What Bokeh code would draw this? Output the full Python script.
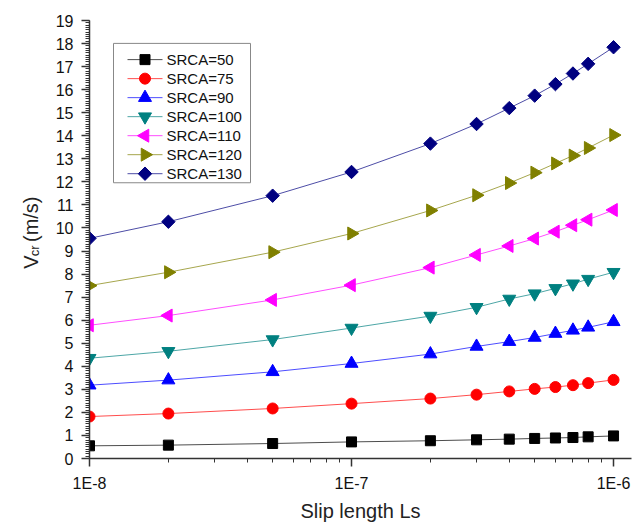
import math
from bokeh.plotting import figure
from bokeh.layouts import row
from bokeh.models import FixedTicker, SingleIntervalTicker, Range1d, LinearScale
from bokeh.core.properties import value
from bokeh.embed import file_html
from bokeh.resources import INLINE

# ---- data ----
slip_length = [1e-8, 2e-8, 5e-8, 1e-7, 2e-7, 3e-7, 4e-7, 5e-7, 6e-7, 7e-7, 8e-7, 1e-6]
srca_50 = [0.55, 0.58, 0.65, 0.72, 0.77, 0.81, 0.84, 0.87, 0.89, 0.91, 0.94, 0.98]
srca_75 = [1.82, 1.95, 2.17, 2.38, 2.60, 2.77, 2.91, 3.02, 3.10, 3.18, 3.27, 3.41]
srca_90 = [3.18, 3.40, 3.76, 4.12, 4.53, 4.86, 5.07, 5.25, 5.42, 5.56, 5.69, 5.93]
srca_100 = [4.35, 4.65, 5.16, 5.66, 6.18, 6.56, 6.92, 7.15, 7.38, 7.58, 7.78, 8.08]
srca_110 = [5.78, 6.20, 6.88, 7.52, 8.28, 8.83, 9.22, 9.54, 9.84, 10.12, 10.36, 10.78]
srca_120 = [7.50, 8.08, 8.95, 9.76, 10.76, 11.42, 11.95, 12.40, 12.80, 13.14, 13.47, 14.03]
srca_130 = [9.55, 10.27, 11.40, 12.43, 13.66, 14.51, 15.20, 15.74, 16.24, 16.70, 17.12, 17.84]

series_names = ["SRCA=50", "SRCA=75", "SRCA=90", "SRCA=100", "SRCA=110", "SRCA=120", "SRCA=130"]
series_values = [srca_50, srca_75, srca_90, srca_100, srca_110, srca_120, srca_130]

x_major_ticks = [1e-8, 1e-7, 1e-6]
x_major_labels = ["1E-8", "1E-7", "1E-6"]
x_minor_ticks = [2e-8, 3e-8, 4e-8, 5e-8, 6e-8, 7e-8, 8e-8, 9e-8,
                 2e-7, 3e-7, 4e-7, 5e-7, 6e-7, 7e-7, 8e-7, 9e-7]

# ---- styles ----
colors = ["#000000", "#ff0000", "#0000ff", "#008080", "#ff00ff", "#808000", "#000080"]
markers = ["square", "circle", "triangle", "inverted_triangle", "triangle", "triangle", "square"]
angles = [0, 0, 0, 0, math.pi / 2, -math.pi / 2, math.pi / 4]
sizes = [10, 11, 13, 13, 13, 13, 9.5]

FONT = "Liberation Sans"

# ---- layout ----
H = 524
LBL_W = 45                      # strip holding the rotated y-axis title
W = 635 - LBL_W
B_LEFT, B_RIGHT, B_TOP, B_BOTTOM = 89 - LBL_W, 4, 20, 64
FRAME_W = W - B_LEFT - B_RIGHT
FRAME_H = H - B_TOP - B_BOTTOM

p = figure(width=W, height=H, x_axis_type="log",
           x_range=Range1d(1e-8, 1.171e-6), y_range=Range1d(0, 19),
           output_backend="svg", toolbar_location=None,
           min_border_left=B_LEFT, min_border_right=B_RIGHT,
           min_border_top=B_TOP, min_border_bottom=B_BOTTOM)
p.outline_line_color = None
p.grid.visible = False
p.background_fill_color = "white"

# pixel coordinate system of the frame (used only for the legend box)
p.extra_x_ranges = {"px": Range1d(0, FRAME_W)}
p.extra_y_ranges = {"py": Range1d(0, FRAME_H)}
p.extra_x_scales = {"px": LinearScale()}
p.extra_y_scales = {"py": LinearScale()}

for vals, c, m, a, s in zip(series_values, colors, markers, angles, sizes):
    p.line(slip_length, vals, line_color=c, line_width=1, line_alpha=0.7)
    p.scatter(slip_length, vals, marker=m, angle=a, size=s,
              fill_color=c, line_color=c)

# ---- legend (drawn in frame pixel units) ----
LEG_L, LEG_R, LEG_T, LEG_B = 24, 161, 417, 277
ROW0, ROW_STEP = 400.7, 19.1
GL0, GL1, GM, TX = 38, 73, 55.5, 77
p.quad(left=[LEG_L], right=[LEG_R], top=[LEG_T], bottom=[LEG_B],
       fill_color="white", line_color="#888888", line_width=1,
       x_range_name="px", y_range_name="py", level="overlay")
for i, (name, c, m, a, s) in enumerate(zip(series_names, colors, markers, angles, sizes)):
    yy = ROW0 - ROW_STEP * i
    p.segment(x0=[GL0], y0=[yy], x1=[GL1], y1=[yy], line_color=c, line_width=1,
              line_alpha=0.7, x_range_name="px", y_range_name="py", level="overlay")
    p.scatter(x=[GM], y=[yy], marker=m, angle=a, size=s, fill_color=c, line_color=c,
              x_range_name="px", y_range_name="py", level="overlay")
    p.text(x=[TX], y=[yy], text=[name], text_font=value(FONT), text_font_size="15px",
           text_color="#111111", text_baseline="middle", text_align="left",
           x_range_name="px", y_range_name="py", level="overlay")

# x axis
xa = p.xaxis[0]
xa.ticker = FixedTicker(ticks=x_major_ticks, minor_ticks=x_minor_ticks)
xa.major_label_overrides = dict(zip(x_major_ticks, x_major_labels))
xa.axis_label = "Slip length Ls"
xa.axis_label_text_font = FONT
xa.axis_label_text_font_style = "normal"
xa.axis_label_text_font_size = "20px"
xa.axis_label_text_color = "#222222"
xa.axis_label_standoff = 5

# y axis
ya = p.yaxis[0]
ya.ticker = SingleIntervalTicker(interval=1, num_minor_ticks=10)

for ax in (xa, ya):
    ax.axis_line_width = 1.5
    ax.axis_line_color = "#333333"
    ax.major_tick_line_color = "#333333"
    ax.minor_tick_line_color = "#333333"
    ax.major_tick_line_width = 1.5
    ax.minor_tick_line_width = 1
    ax.major_tick_out = 8
    ax.major_tick_in = 0
    ax.minor_tick_out = 4
    ax.minor_tick_in = 0
    ax.major_label_text_font = FONT
    ax.major_label_text_font_size = "16px"
    ax.major_label_text_color = "#111111"
    ax.major_label_standoff = 8

# ---- y-axis title strip: "V" with subscript "cr", then "(m/s)", rotated ----
q = figure(width=LBL_W, height=H, x_range=Range1d(0, LBL_W), y_range=Range1d(0, H),
           output_backend="svg", toolbar_location=None,
           x_axis_location=None, y_axis_location=None,
           min_border_left=0, min_border_right=0, min_border_top=0, min_border_bottom=0)
q.outline_line_color = None
q.grid.visible = False
title_parts = ["V", "cr", "(m/s)"]
title_x = [30, 34, 30]
title_y = [H - 297, H - 282, H - 265]
title_sizes = ["20px", "13px", "20px"]
for t, tx, ty, ts in zip(title_parts, title_x, title_y, title_sizes):
    q.text(x=[tx], y=[ty], text=[t], angle=math.pi / 2, text_font=value(FONT),
           text_font_size=ts, text_color="#222222",
           text_align="left", text_baseline="alphabetic")

layout = row(q, p, spacing=0)
open("out.html", "w").write(file_html(layout, INLINE))
